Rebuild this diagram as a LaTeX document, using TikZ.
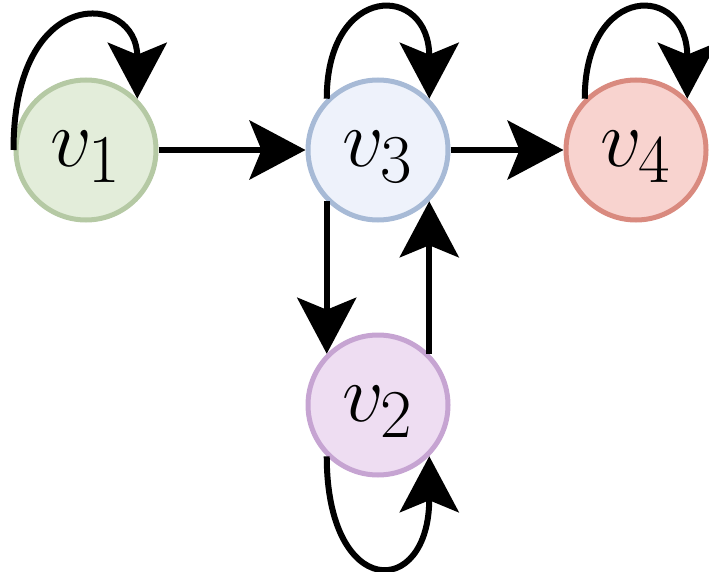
\documentclass[tikz,border=0pt]{standalone}
\usepackage{graphicx}
\usetikzlibrary{arrows.meta}
\definecolor{gfill}{HTML}{E3EDDA}
\definecolor{gdraw}{HTML}{B5C9A4}
\definecolor{bfill}{HTML}{EEF2FB}
\definecolor{bdraw}{HTML}{A7BAD6}
\definecolor{rfill}{HTML}{F8D3CF}
\definecolor{rdraw}{HTML}{D98A7F}
\definecolor{pfill}{HTML}{EEDDF2}
\definecolor{pdraw}{HTML}{C6A4D2}
\newcommand{\vlabel}[1]{\scalebox{3.3}{\Huge$#1$}}
\tikzset{
  vtx/.style={circle, line width=5pt, minimum size=140pt, inner sep=0pt},
  lbl/.style={inner sep=0pt, yshift=-7pt},
  edge/.style={line width=6pt, -{Stealth[length=56pt, width=59pt, inset=12pt]}}
}
\begin{document}
\begin{tikzpicture}[x=1pt,y=1pt]
\useasboundingbox (0,0) rectangle (709,-572);
\node[vtx, draw=gdraw, fill=gfill] (v1) at (86,-150) {};
\node[vtx, draw=bdraw, fill=bfill] (v3) at (378,-150) {};
\node[vtx, draw=rdraw, fill=rfill] (v4) at (636,-150) {};
\node[vtx, draw=pdraw, fill=pfill] (v2) at (378,-405) {};
\node[lbl] (t1) at (v1) {\vlabel{v_1}};
\node[lbl] (t3) at (v3) {\vlabel{v_3}};
\node[lbl] (t4) at (v4) {\vlabel{v_4}};
\node[lbl] (t2) at (v2) {\vlabel{v_2}};
\draw[edge] (v1) -- (v3);
\draw[edge] (v3) -- (v4);
\draw[edge] (v3.225) -- (v2.135);
\draw[edge] (v2.45) -- (v3.-45);
\draw[edge] (v1.west) .. controls +(0,168) and +(0,106) .. (v1.45);
\draw[edge] (v3.135) .. controls +(0,116) and +(0,116) .. (v3.45);
\draw[edge] (v4.135) .. controls +(0,116) and +(0,116) .. (v4.45);
\draw[edge] (v2.225) .. controls +(0,-144) and +(0,-144) .. (v2.-45);
\end{tikzpicture}
\end{document}
